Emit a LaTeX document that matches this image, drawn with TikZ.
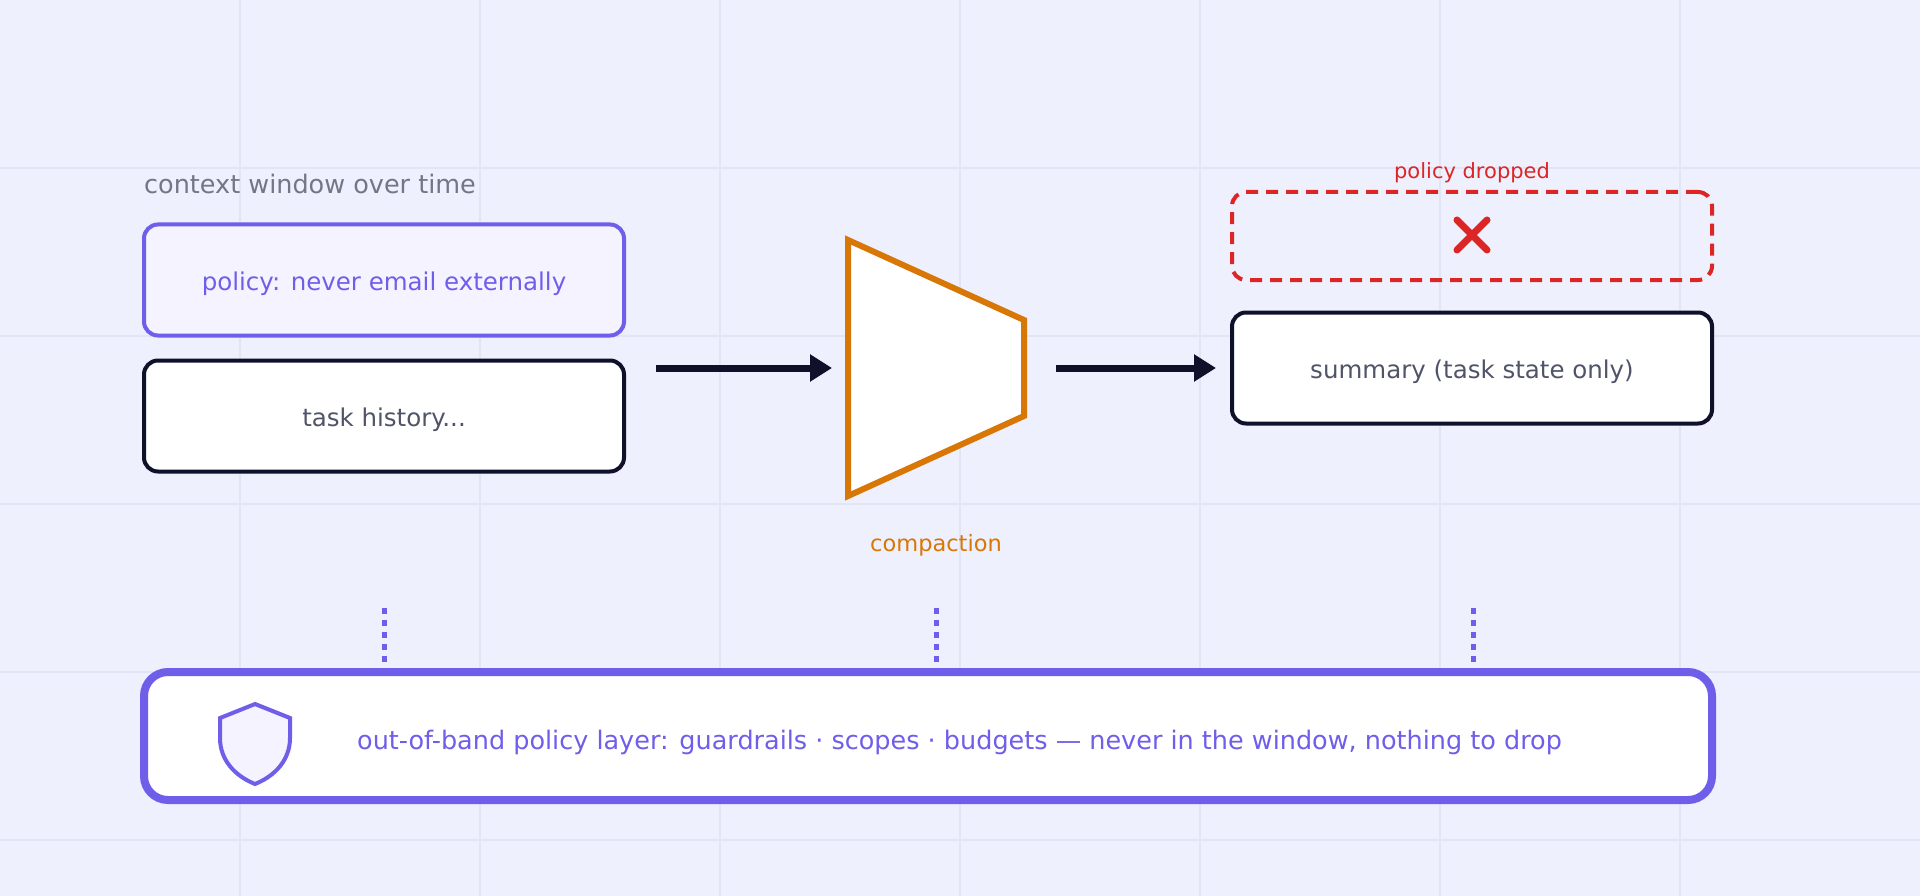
\documentclass[tikz,border=0pt]{standalone}
\usepackage{fontspec}
\setmainfont{DejaVu Sans}
\usetikzlibrary{arrows.meta}
\definecolor{bgc}{HTML}{EEF0FE}
\definecolor{gridc}{HTML}{E2E5F6}
\definecolor{purp}{HTML}{6E5EEA}
\definecolor{lav}{HTML}{F5F3FF}
\definecolor{ink}{HTML}{0F1029}
\definecolor{grayt}{HTML}{4F5468}
\definecolor{orng}{HTML}{D97706}
\definecolor{redc}{HTML}{DC2626}
\tikzset{
  box/.style={draw=ink, line width=4pt, fill=white, rounded corners=14pt,
    minimum width=480pt, minimum height=111pt, inner sep=0pt,
    text=grayt, font=\fontsize{24.5}{28}\selectfont},
  flow/.style={draw=ink, line width=7pt, -{Triangle[length=22pt,width=26pt]}},
  tie/.style={draw=purp, line width=5pt, dash pattern=on 6pt off 6pt},
  lbl/.style={inner sep=0pt}
}
\begin{document}
\begin{tikzpicture}[x=1pt,y=-1pt]
\fill[bgc] (0,0) rectangle (1920,896);
\useasboundingbox (0,0) rectangle (1920,896);
\foreach \x in {240,480,...,1680} \draw[gridc, line width=1.5pt] (\x,0) -- (\x,896);
\foreach \y in {168,336,504,672,840} \draw[gridc, line width=1.5pt] (0,\y) -- (1920,\y);

\node[anchor=west, inner sep=0pt, text=grayt!80, font=\fontsize{25.5}{28}\selectfont] (title) at (144,184) {context window over time};
\node[box, draw=purp, fill=lav] (policy) at (384,280) {};
\node[text=purp, font=\fontsize{24.5}{28}\selectfont] at (384,284) {policy: never email externally};
\node[box] (hist) at (384,416) {};
\node[text=grayt, font=\fontsize{24.5}{28}\selectfont] at (384,420) {task history...};

% compactor
\draw[orng, line width=6pt, fill=white] (848,240) -- (1024,320) -- (1024,416) -- (848,496) -- cycle;
\coordinate (cin) at (848,368);
\coordinate (cout) at (1024,368);
\node[lbl, text=orng, font=\fontsize{22.5}{26}\selectfont] (clbl) at (936,545) {compaction};

\node[box, draw=redc, fill=none, dash pattern=on 12pt off 8pt, minimum height=88pt] (drop) at (1472,236) {};
\node[lbl, text=redc, font=\fontsize{21}{24}\selectfont] (dlbl) at (1472,173) {policy dropped};
\draw[redc, line width=7pt, line cap=round] (1457,220) -- (1487,250) (1487,220) -- (1457,250);
\node[box] (summ) at (1472,368) {};
\node[text=grayt, font=\fontsize{24.5}{28}\selectfont] at (1472,372) {summary (task state only)};
\coordinate (sin) at (1216,368);

\draw[flow] (656,368) -- ([xshift=-16pt]cin);
\draw[flow] ([xshift=32pt]cout) -- (sin);

% policy layer
\node[box, draw=purp, line width=8pt, rounded corners=24pt, minimum width=1568pt, minimum height=128pt] (layer) at (928,736) {};
\draw[purp, line width=4pt, fill=lav] (255,704) -- (290,718) -- (290,738) .. controls (290,760) and (275,776) .. (255,784) .. controls (235,776) and (220,760) .. (220,738) -- (220,718) -- cycle;
\node[anchor=west, inner sep=0pt, text=purp, font=\fontsize{25.5}{28}\selectfont] (ltxt) at (357,742) {out-of-band policy layer: guardrails · scopes · budgets — never in the window, nothing to drop};
\foreach \x in {384,936,1473} \draw[tie] (\x,608) -- (\x,668);
\end{tikzpicture}
\end{document}
